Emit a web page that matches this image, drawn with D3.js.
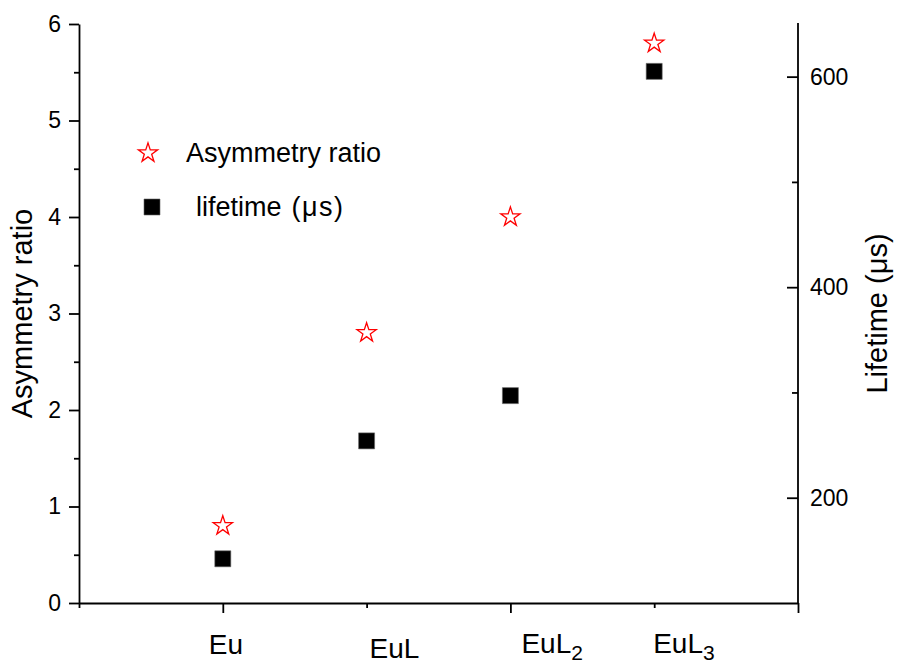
<!DOCTYPE html>
<html>
<head>
<meta charset="utf-8">
<script src="https://cdn.jsdelivr.net/npm/d3@7"></script>
<style>
  html, body { margin: 0; padding: 0; background: #fff; }
  svg { display: block; font-family: "Liberation Sans", Arial, sans-serif; }
</style>
</head>
<body>
<svg id="chart" width="898" height="664"></svg>
<script>
// Complexes along the x axis and their base name / subscript
const categories = ["Eu", "EuL", "EuL2", "EuL3"];
const catBase = ["Eu", "EuL", "EuL", "EuL"];
const catSub = ["", "", "2", "3"];
const catIndex = [1, 2, 3, 4];

// Measured values
const asymmetryRatio = [0.8, 2.8, 4.0, 5.8];
const lifetimeUs = [142, 254, 297, 605];

// Axis ticks
const leftTicks = [0, 1, 2, 3, 4, 5, 6];
const leftMinor = [0.5, 1.5, 2.5, 3.5, 4.5, 5.5];
const rightTicks = [200, 400, 600];
const rightMinor = [300, 500];
const bottomMajor = [1, 3, 5];
const bottomMinor = [0, 2, 4];

const svg = d3.select("#chart");
const plotLeft = 79, plotRight = 798, plotTop = 24, plotBottom = 603;

const x = d3.scaleLinear().domain([0, 5]).range([plotLeft, plotRight]);
const yL = d3.scaleLinear().domain([0, 6]).range([plotBottom, plotTop]);
const yR = d3.scaleLinear().domain([100, 650]).range([plotBottom, plotTop]);

const axisStroke = 1.8;
function styleAxis(g) {
  g.selectAll("path.domain").attr("stroke", "#000").attr("stroke-width", axisStroke);
  g.selectAll(".tick line").attr("stroke", "#000").attr("stroke-width", axisStroke);
  g.selectAll(".tick text").attr("fill", "#000").style("font-size", "23px")
    .style("font-family", "'Liberation Sans', Arial, sans-serif");
}

// Left axis: majors with labels, minors without
const gL = svg.append("g").attr("transform", `translate(${plotLeft},0)`)
  .call(d3.axisLeft(yL).tickValues(leftTicks).tickSize(10).tickSizeOuter(0).tickPadding(8)
    .tickFormat(d3.format("d")));
styleAxis(gL);
svg.append("g").attr("transform", `translate(${plotLeft},0)`)
  .call(d3.axisLeft(yL).tickValues(leftMinor).tickSize(5).tickSizeOuter(0).tickFormat(""))
  .call(g => g.select("path.domain").remove())
  .call(styleAxis);

// Right axis: ticks pointing into the plot
const gR = svg.append("g").attr("transform", `translate(${plotRight},0)`)
  .call(d3.axisRight(yR).tickValues(rightTicks).tickSizeInner(-11).tickSizeOuter(0).tickPadding(12));
styleAxis(gR);
gR.select("path.domain").attr("d", `M0,${plotTop - 1}V${plotBottom}`);
svg.append("g").attr("transform", `translate(${plotRight},0)`)
  .call(d3.axisRight(yR).tickValues(rightMinor).tickSizeInner(-6).tickSizeOuter(0).tickFormat(""))
  .call(g => g.select("path.domain").remove())
  .call(styleAxis);

// Bottom axis
const gB = svg.append("g").attr("transform", `translate(0,${plotBottom})`)
  .call(d3.axisBottom(x).tickValues(bottomMajor).tickSize(10).tickSizeOuter(0).tickFormat(""));
styleAxis(gB);
svg.append("g").attr("transform", `translate(0,${plotBottom})`)
  .call(d3.axisBottom(x).tickValues(bottomMinor).tickSize(5).tickSizeOuter(0).tickFormat(""))
  .call(g => g.select("path.domain").remove())
  .call(styleAxis);

// Category labels under the bottom axis (per-label nudges in px)
const labelNudge = [[-14, 51], [3, 55], [11, 50], [-1, 50]];
categories.forEach((c, i) => {
  const t = svg.append("text")
    .attr("x", x(catIndex[i]) + labelNudge[i][0])
    .attr("y", plotBottom + labelNudge[i][1])
    .attr("font-size", 28)
    .attr("fill", "#000")
    .text(catBase[i]);
  if (catSub[i]) {
    t.append("tspan").attr("font-size", 21).attr("dy", 7).text(catSub[i]);
  }
});

// Axis titles
svg.append("text")
  .attr("transform", `translate(32,${(plotTop + plotBottom) / 2}) rotate(-90)`)
  .attr("text-anchor", "middle").attr("font-size", 29).attr("fill", "#000")
  .text("Asymmetry ratio");
svg.append("text")
  .attr("transform", `translate(887,${(plotTop + plotBottom) / 2}) rotate(-90)`)
  .attr("text-anchor", "middle").attr("font-size", 29).attr("fill", "#000")
  .text("Lifetime (μs)");

// Series: lifetime squares (right axis) and asymmetry stars (left axis)
const star = d3.symbol().type(d3.symbolStar).size(115);
const square = d3.symbol().type(d3.symbolSquare).size(256);

svg.append("g").selectAll("path")
  .data(lifetimeUs)
  .join("path")
  .attr("transform", (d, i) => `translate(${x(catIndex[i])},${yR(d)})`)
  .attr("d", square)
  .attr("fill", "#000").attr("stroke", "#666").attr("stroke-width", 0.6);

svg.append("g").selectAll("path")
  .data(asymmetryRatio)
  .join("path")
  .attr("transform", (d, i) => `translate(${x(catIndex[i])},${yL(d)})`)
  .attr("d", star)
  .attr("fill", "#fff").attr("stroke", "#ff0000").attr("stroke-width", 1.3);

// Legend
const legend = svg.append("g");
legend.append("path").attr("transform", "translate(148,153)").attr("d", star)
  .attr("fill", "#fff").attr("stroke", "#ff0000").attr("stroke-width", 1.3);
legend.append("text").attr("x", 186).attr("y", 153).attr("dy", "0.35em")
  .attr("font-size", 27).attr("fill", "#000").text("Asymmetry ratio");
legend.append("path").attr("transform", "translate(152,207)").attr("d", square)
  .attr("fill", "#000").attr("stroke", "#666").attr("stroke-width", 0.6);
const lifeText = legend.append("text").attr("x", 196).attr("y", 207).attr("dy", "0.35em")
  .attr("font-size", 27).attr("fill", "#000");
lifeText.append("tspan").text("lifetime");
lifeText.append("tspan").attr("dx", 10).attr("letter-spacing", 1.5).text("(μs)");
</script>
</body>
</html>
